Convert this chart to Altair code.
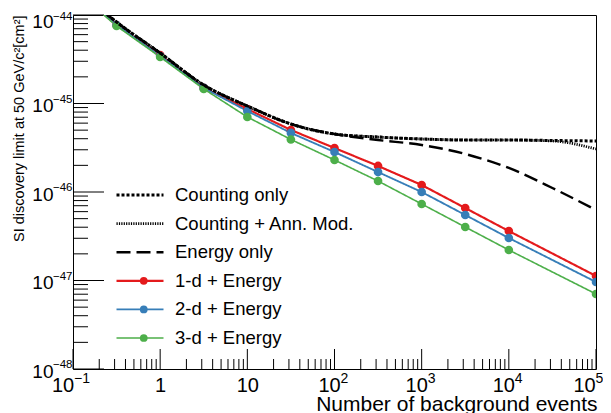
import altair as alt
import pandas as pd

# ---------------- data ----------------
x_colored = [0.1, 0.316, 1, 3.16, 10, 31.6, 100, 316, 1000, 3162, 10000, 100000]
y_1d = [2.05e-44, 7.70e-45, 3.53e-45, 1.50e-45, 8.67e-46, 5.02e-46, 3.14e-46,
        1.97e-46, 1.20e-46, 6.59e-47, 3.62e-47, 1.125e-47]
y_2d = [2.05e-44, 7.70e-45, 3.44e-45, 1.50e-45, 8.22e-46, 4.65e-46, 2.83e-46,
        1.68e-46, 1.00e-46, 5.50e-47, 3.02e-47, 9.62e-48]
y_3d = [2.00e-44, 7.51e-45, 3.35e-45, 1.46e-45, 7.04e-46, 3.92e-46, 2.30e-46,
        1.33e-46, 7.32e-47, 4.02e-47, 2.21e-47, 7.04e-48]

x_black = [0.1, 0.316, 1, 3.16, 10, 31.6, 100, 316, 1000, 3162, 10000, 31623, 100000]
y_counting = [2.15e-44, 8.33e-45, 3.72e-45, 1.62e-45, 9.37e-46, 5.87e-46, 4.52e-46,
              4.18e-46, 3.97e-46, 3.87e-46, 3.87e-46, 3.82e-46, 3.77e-46]
y_ann = [2.15e-44, 8.33e-45, 3.72e-45, 1.62e-45, 9.37e-46, 5.87e-46, 4.52e-46,
         4.18e-46, 3.97e-46, 3.87e-46, 3.87e-46, 3.77e-46, 3.06e-46]
y_energy = [2.15e-44, 8.33e-45, 3.72e-45, 1.62e-45, 9.37e-46, 5.87e-46, 4.52e-46,
            3.87e-46, 3.40e-46, 2.69e-46, 1.87e-46, 1.11e-46, 6.26e-47]

series_names = ["Counting only", "Counting + Ann. Mod.", "Energy only",
                "1-d + Energy", "2-d + Energy", "3-d + Energy"]
series_colors = ["#000000", "#000000", "#000000", "#e41a1c", "#377eb8", "#4daf4a"]
series_dash = [[3, 2], [1.2, 1.2], [14, 6], [1, 0], [1, 0], [1, 0]]
series_width = [3, 1.6, 3, 3.5, 3.5, 3.5]

x_tick_values = [0.1, 1, 10, 100, 1000, 10000, 100000]
x_tick_bases = ["10", "1", "10", "10", "10", "10", "10"]
x_tick_exps = ["−1", "", "", "2", "3", "4", "5"]
y_tick_values = [1e-48, 1e-47, 1e-46, 1e-45, 1e-44]
y_tick_bases = ["10", "10", "10", "10", "10"]
y_tick_exps = ["−48", "−47", "−46", "−45", "−44"]

# ---------------- tables ----------------
rows = []
for name, ys in zip(series_names[3:], [y_1d, y_2d, y_3d]):
    for xv, yv in zip(x_colored, ys):
        rows.append({"x": xv, "y": yv, "series": name})
df_col = pd.DataFrame(rows)

rows = []
for name, ys in zip(series_names[:3], [y_counting, y_ann, y_energy]):
    for xv, yv in zip(x_black, ys):
        rows.append({"x": xv, "y": yv, "series": name})
df_black = pd.DataFrame(rows)

y_minor = [m * 10.0 ** k for k in range(-48, -44) for m in range(2, 10)]
x_minor = [m * 10.0 ** k for k in range(-1, 5) for m in range(2, 10)]
df_ymaj = pd.DataFrame({"y": y_tick_values})
df_ymin = pd.DataFrame({"y": y_minor})
df_xmaj = pd.DataFrame({"x": x_tick_values})
df_xmin = pd.DataFrame({"x": x_minor})
df_xexp = pd.DataFrame({"x": x_tick_values, "e": x_tick_exps})
df_xexp = df_xexp[df_xexp["e"] != ""]
df_yexp = pd.DataFrame({"y": y_tick_values, "e": y_tick_exps})

W, H = 523, 354
FONT = "Liberation Sans"

x_label_expr = "[" + ",".join("'" + s + "'" for s in x_tick_bases) + "][round(log(datum.value)/LN10)+1]"
y_label_expr = "[" + ",".join("'" + s + "'" for s in y_tick_bases) + "][round(log(datum.value)/LN10)+48]"

x_enc = alt.X(
    "x:Q",
    scale=alt.Scale(type="log", domain=[0.1, 1e5], nice=False),
    axis=alt.Axis(
        values=x_tick_values, labelExpr=x_label_expr, ticks=False, domain=False, grid=False,
        labelFont=FONT, labelFontSize=20, labelColor="black", labelPadding=6,
        labelOffset={"condition": [{"test": "datum.value < 0.5", "value": -10.5},
                                   {"test": "datum.value < 50", "value": 0},
                                   {"test": "datum.value > 50000", "value": -12}],
                     "value": -5.5},
        labelFlush=False, labelOverlap=False, labelBound=False,
        title="Number of background events", titleFont=FONT, titleFontSize=21,
        titleFontWeight="normal", titleColor="black", titleAnchor="end", titleAlign="right",
        titleX=W + 1, titleY=41, titleBaseline="alphabetic",
    ),
)
y_enc = alt.Y(
    "y:Q",
    scale=alt.Scale(type="log", domain=[1e-48, 1e-44], nice=False),
    axis=alt.Axis(
        values=y_tick_values, labelExpr=y_label_expr, ticks=False, domain=False, grid=False,
        labelFont=FONT, labelFontSize=19, labelColor="black", labelPadding=20,
        labelAlign="right", labelBaseline="middle",
        labelOffset={"condition": {"test": "datum.value > 5e-45", "value": 6}, "value": 2},
        labelFlush=False, labelOverlap=False, labelBound=False,
        title="SI discovery limit at 50 GeV/c²[cm²]", titleFont=FONT, titleFontSize=14.5,
        titleFontWeight="normal", titleColor="black", titleAngle=270, titleAlign="right",
        titleX=-54, titleY=0, titleBaseline="middle",
    ),
)

ROW_PAD = 8.6
CLIP_H = 20
legend_common = dict(
    title=None, orient="none", padding=0, labelFont=FONT, labelFontSize=18.5,
    labelColor="black", labelOffset=10, labelLimit=400, clipHeight=CLIP_H, rowPadding=ROW_PAD,
)
line_legend = alt.Legend(legendX=42, legendY=170, symbolType="stroke", symbolSize=47 * 47,
                         **legend_common)
point_legend = alt.Legend(legendX=61.5, legendY=170 + 3 * (CLIP_H + ROW_PAD), symbolType="circle",
                          symbolSize=60, labelExpr="''", **legend_common)

color_enc = alt.Color("series:N", scale=alt.Scale(domain=series_names, range=series_colors),
                      legend=line_legend)
dash_enc = alt.StrokeDash("series:N", scale=alt.Scale(domain=series_names, range=series_dash),
                          legend=line_legend)
width_enc = alt.StrokeWidth("series:N", scale=alt.Scale(domain=series_names, range=series_width),
                            legend=line_legend)

y_min_rules = alt.Chart(df_ymin).mark_rule(color="black", strokeWidth=1).encode(
    y=y_enc, x=alt.value(0), x2=alt.value(15))
y_maj_rules = alt.Chart(df_ymaj).mark_rule(color="black", strokeWidth=1).encode(
    y=y_enc, x=alt.value(0), x2=alt.value(31))
x_min_rules = alt.Chart(df_xmin).mark_rule(color="black", strokeWidth=1).encode(
    x=x_enc, y=alt.value(H), y2=alt.value(H - 10))
x_maj_rules = alt.Chart(df_xmaj).mark_rule(color="black", strokeWidth=1).encode(
    x=x_enc, y=alt.value(H), y2=alt.value(H - 20))

exp_style = dict(font=FONT, color="black", align="left", baseline="middle")
x_exp_first = alt.Chart(df_xexp).transform_filter("datum.x < 0.5").mark_text(
    fontSize=14, dx=1, **exp_style).encode(x=x_enc, y=alt.value(H + 10), text="e:N")
x_exp_rest = alt.Chart(df_xexp).transform_filter("datum.x > 50 && datum.x < 50000").mark_text(
    fontSize=14, dx=6, **exp_style).encode(x=x_enc, y=alt.value(H + 10), text="e:N")
x_exp_last = alt.Chart(df_xexp).transform_filter("datum.x > 50000").mark_text(
    fontSize=14, dx=-0.5, **exp_style).encode(x=x_enc, y=alt.value(H + 10), text="e:N")
y_exp_main = alt.Chart(df_yexp).transform_filter("datum.y < 5e-45").mark_text(
    fontSize=11.5, dy=-4, **exp_style).encode(y=y_enc, x=alt.value(-20), text="e:N")
y_exp_top = alt.Chart(df_yexp).transform_filter("datum.y > 5e-45").mark_text(
    fontSize=11.5, dy=1.5, **exp_style).encode(y=y_enc, x=alt.value(-20), text="e:N")

colored_lines = alt.Chart(df_col).mark_line(clip=True).encode(
    x=x_enc, y=y_enc, color=color_enc, strokeDash=dash_enc, strokeWidth=width_enc)
points = alt.Chart(df_col).mark_point(filled=True, size=75, clip=True, opacity=1).encode(
    x=x_enc, y=y_enc,
    fill=alt.Fill("series:N", scale=alt.Scale(domain=series_names[3:], range=series_colors[3:]),
                  legend=point_legend))
black_lines = alt.Chart(df_black).mark_line(clip=True, interpolate="monotone").encode(
    x=x_enc, y=y_enc, color=color_enc, strokeDash=dash_enc, strokeWidth=width_enc)

chart = alt.layer(
    y_min_rules, y_maj_rules, x_min_rules, x_maj_rules,
    x_exp_first, x_exp_rest, x_exp_last, y_exp_main, y_exp_top,
    colored_lines, points, black_lines
).properties(
    width=W, height=H,
    autosize=alt.AutoSizeParams(type="none"),
    padding={"left": 65, "top": 7, "right": 7, "bottom": 44},
).configure_view(stroke="black", strokeWidth=1)

chart.save("out.html", embed_options={"renderer": "svg", "actions": False})
